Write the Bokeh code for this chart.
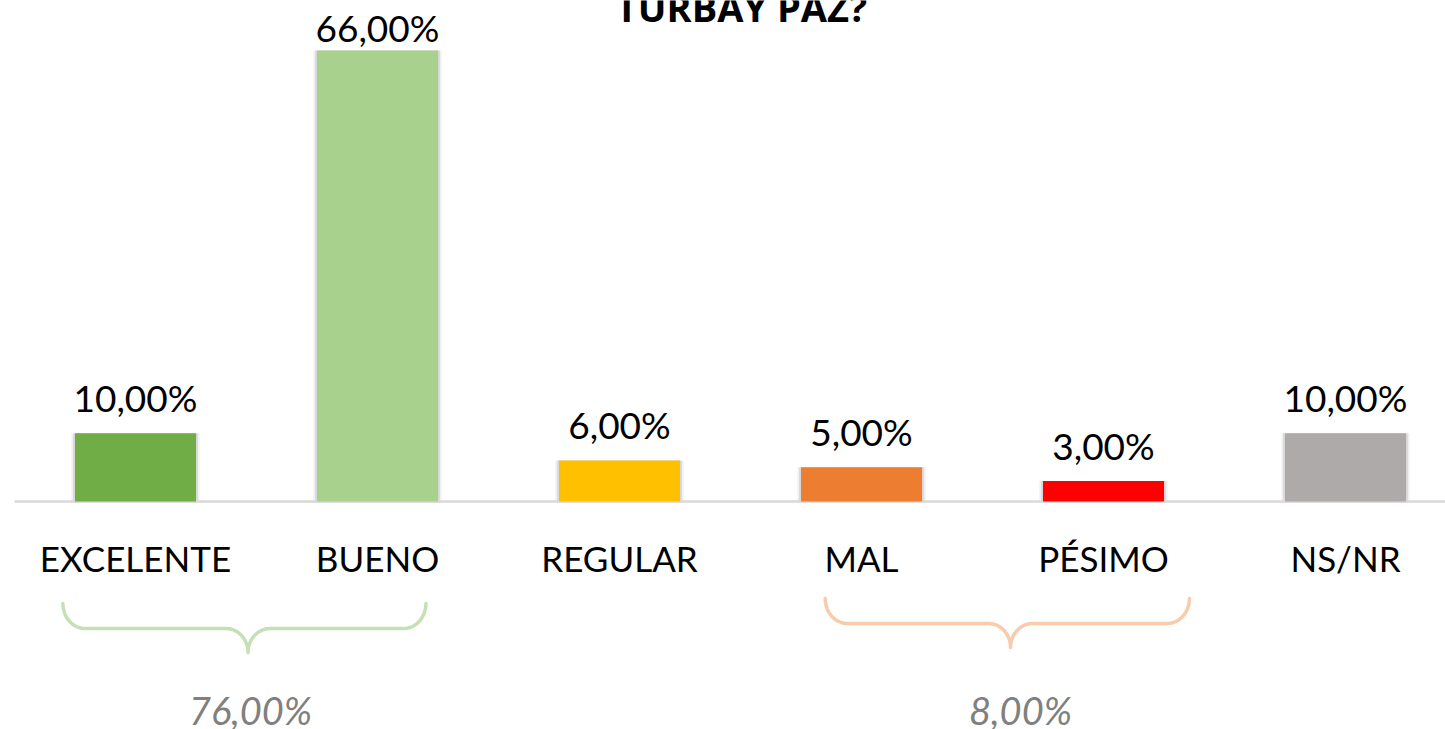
import numpy as np
from bokeh.plotting import figure
from bokeh.models import ColumnDataSource, Range1d
from bokeh.core.properties import value
from bokeh.embed import file_html
from bokeh.resources import INLINE

categories = ["EXCELENTE", "BUENO", "REGULAR", "MAL", "PÉSIMO", "NS/NR"]
values = [10.0, 66.0, 6.0, 5.0, 3.0, 10.0]
colors = ["#70ad47", "#a9d18e", "#ffc000", "#ed7d31", "#ff0000", "#aeaaaa"]
group_labels = ["76,00%", "8,00%"]
group_members = [[0, 1], [3, 4]]
group_colors = ["#c5e0b4", "#f8cbad"]
title_text = "TURBAY PAZ?"

W, H = 1445, 729
# pixel geometry used to place the frame
PX0, PXSTEP = 135.0, 242.0
BASE_PIX, SCALE = 501.0, 451.0 / 66.0

def ydata(pix):
    return (BASE_PIX - pix) / SCALE

def xdata(pix):
    return (pix - PX0) / PXSTEP

p = figure(width=W, height=H, output_backend="svg", toolbar_location=None,
           x_range=Range1d(xdata(0), xdata(W)), y_range=Range1d(ydata(H), ydata(0)),
           min_border=0, outline_line_color=None)
p.xaxis.visible = False
p.yaxis.visible = False
p.grid.visible = False
p.background_fill_color = "white"

xs = list(range(len(categories)))
# label centre: 36px above bar top, but not above pixel row 27
lab_y = [min(v + 36 / SCALE, ydata(27)) for v in values]
src = ColumnDataSource(dict(x=xs, top=values, color=colors, laby=lab_y,
                            lab=[f"{v:.2f}".replace(".", ",") + "%" for v in values],
                            cat=categories))

# shadows
for w, a in [(0.53, 0.06), (0.515, 0.10)]:
    p.vbar(x="x", top="top", bottom=-0.15, width=w, source=src,
           fill_color="#000000", fill_alpha=a, line_color=None)
# baseline
p.segment(x0=xdata(14), y0=0, x1=xdata(W + 20), y1=0, line_color="#d9d9d9", line_width=2.5)
p.vbar(x="x", top="top", bottom=0, width=0.5, source=src,
       fill_color="color", line_color=None)

font = value("Lato")
p.text(x="x", y="laby", text="lab", source=src, text_align="center",
       text_baseline="middle", text_font=font,
       text_font_size="37px", text_color="#000000")
p.text(x="x", y=ydata(557), text="cat", source=src, text_align="center",
       text_baseline="middle", text_font=font, text_font_size="35px",
       text_color="#000000")

# title (cut at top, as in the original)
p.text(x=[xdata(741)], y=[ydata(6)], text=[title_text],
       text_align="center", text_baseline="middle",
       text_font=value("Open Sans"), text_font_style="bold",
       text_font_size="38px", text_color="#000000")

# braces
def brace(pa, pb, pm, top_pix, mid_pix, tip_pix, r=22):
    t = np.linspace(0, np.pi / 2, 12)
    pts = []
    for a in t:
        pts.append((pa + r - r * np.cos(a), top_pix + (mid_pix - top_pix) * np.sin(a)))
    for a in t:
        pts.append((pm - r + r * np.sin(a), mid_pix + (tip_pix - mid_pix) * (1 - np.cos(a))))
    for a in t[::-1]:
        pts.append((pm + r - r * np.sin(a), mid_pix + (tip_pix - mid_pix) * (1 - np.cos(a))))
    for a in t[::-1]:
        pts.append((pb - r + r * np.cos(a), top_pix + (mid_pix - top_pix) * np.sin(a)))
    return [xdata(q[0]) for q in pts], [ydata(q[1]) for q in pts]

specs = [(-0.30, 0.20, 0.465, 603, 628, 652, 250),
         (-0.15, 0.355, 0.616, 598, 623, 647, 1020)]
for k, (members, lab, col) in enumerate(zip(group_members, group_labels, group_colors)):
    da, db, dm, tp, mp, tip, lx = specs[k]
    pa = PX0 + (members[0] + da) * PXSTEP
    pb = PX0 + (members[-1] + db) * PXSTEP
    pm = PX0 + (members[0] + dm) * PXSTEP
    bx, by = brace(pa, pb, pm, tp, mp, tip)
    p.line(bx, by, line_color=col, line_width=3.5, line_cap="round", line_join="round")
    p.text(x=[xdata(lx)], y=[ydata(709)], text=[lab], text_align="center",
           text_baseline="middle", text_font=font, text_font_style="italic",
           text_font_size="38px", text_color="#808080")

open("out.html", "w").write(file_html(p, INLINE))
